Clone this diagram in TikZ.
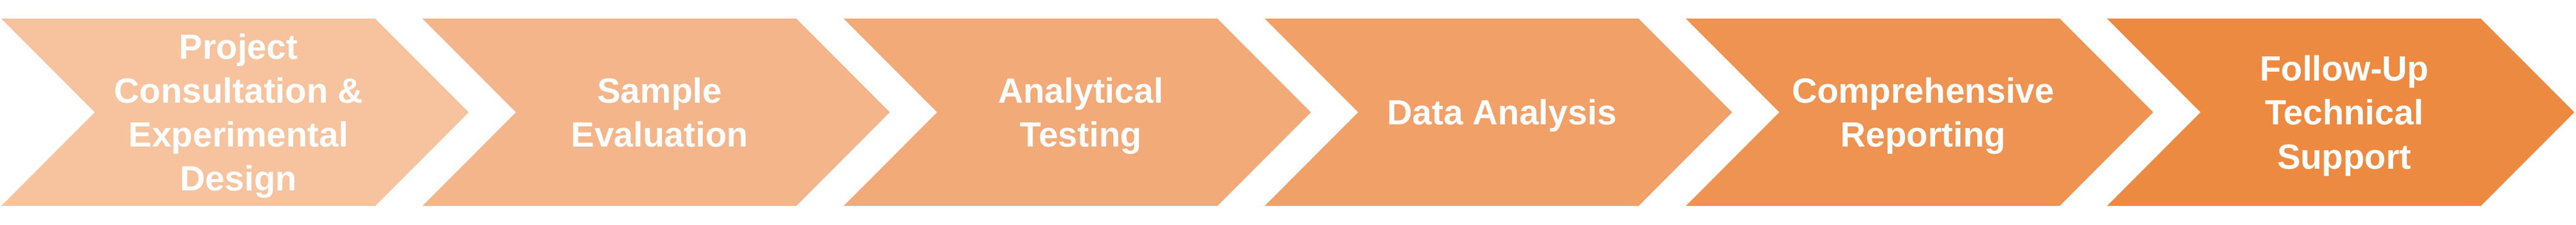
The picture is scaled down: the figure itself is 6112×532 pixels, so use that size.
\documentclass[tikz,border=0pt]{standalone}
\usepackage{fontspec}
\setmainfont{Liberation Sans}
\definecolor{c1}{HTML}{F6C39E}
\definecolor{c2}{HTML}{F4B58A}
\definecolor{c3}{HTML}{F2AA78}
\definecolor{c4}{HTML}{F1A068}
\definecolor{c5}{HTML}{EE9351}
\definecolor{c6}{HTML}{ED8A41}
\tikzset{
  lbl/.style={anchor=base, inner sep=0pt, text=white,
    font=\fontsize{41.5}{52}\selectfont\bfseries},
}
\newcommand{\chev}[2]{%
  \fill[#2] (#1,44) -- ++(887,0) -- ++(222,222) -- ++(-222,222) -- ++(-887,0) -- ++(222,-222) -- cycle;}
\newcommand{\lines}[1]{\begin{tabular}[t]{@{}c@{}}#1\end{tabular}}
\begin{document}
\begin{tikzpicture}[x=0.5pt,y=-0.5pt]
\useasboundingbox (0,0) rectangle (6112,532);
\chev{3}{c1}
\chev{1002.2}{c2}
\chev{2001.4}{c3}
\chev{3000.6}{c4}
\chev{3999.8}{c5}
\chev{4999}{c6}
\node[lbl] (t1) at (566,139.75) {\lines{Project\\Consultation \&\\Experimental\\Design}};
\node[lbl] (t2) at (1565.2,243.75) {\lines{Sample\\Evaluation}};
\node[lbl] (t3) at (2564.4,243.75) {\lines{Analytical\\Testing}};
\node[lbl] (t4) at (3563.6,295.75) {\lines{Data Analysis}};
\node[lbl] (t5) at (4562.8,243.75) {\lines{Comprehensive\\Reporting}};
\node[lbl] (t6) at (5562,191.75) {\lines{Follow-Up\\Technical\\Support}};
\end{tikzpicture}
\end{document}
